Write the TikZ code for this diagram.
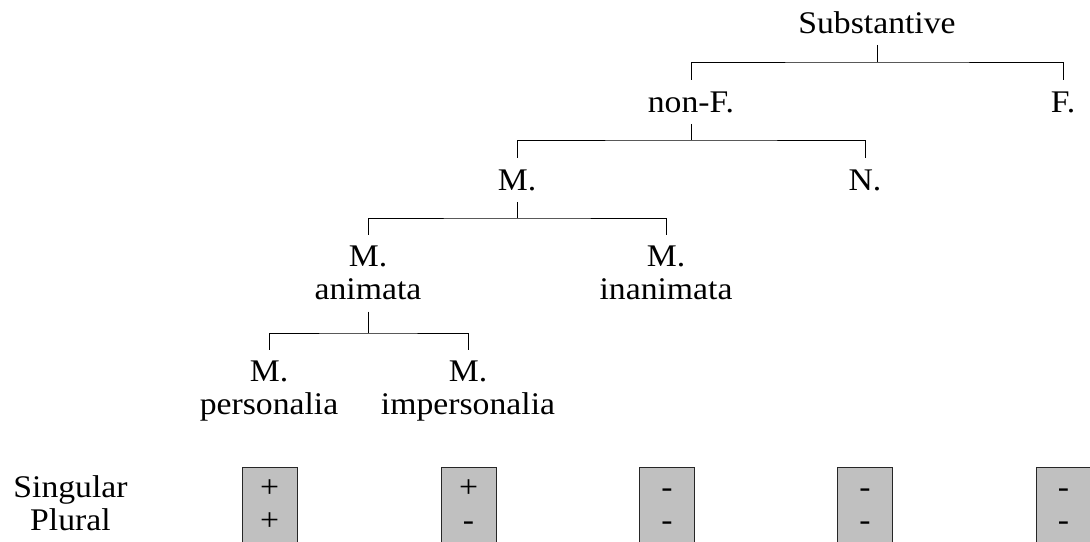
\documentclass[tikz,border=0pt]{standalone}
\usepackage{fontspec}
\setmainfont[FakeStretch=1.07]{Liberation Serif}
\usepackage{tikz}
\usetikzlibrary{shapes,arrows}
\definecolor{cellgray}{RGB}{192,192,192}
\tikzstyle{cat} = [inner sep=0pt, outer xsep=0pt, outer ysep=5.75pt, align=center]
\tikzstyle{rowlabel} = [inner sep=0pt, outer sep=0pt, align=center]
\tikzstyle{cell} = [draw=black!85, line width=0.5pt, fill=cellgray, minimum width=27.5pt, minimum height=37.75pt, inner sep=0pt]
\tikzstyle{val} = [inner sep=0pt, anchor=base]
\tikzstyle{branch} = [line width=0.5pt]

\begin{document}
\begin{tikzpicture}[x=0.5pt, y=-0.5pt, every node/.style={font=\fontsize{15.75pt}{16.5pt}\selectfont}]
    \useasboundingbox (0,0) rectangle (1090,541);
    % We start by placing the categories
    \node [cat, anchor=base] (subst) at (877,33) {Substantive};
    \node [cat, anchor=base] (nonf) at (691,112) {non-F.};
    \node [cat, anchor=base] (fem) at (1063,112) {F.};
    \node [cat, anchor=base] (masc) at (517,190) {M.};
    \node [cat, anchor=base] (neut) at (865,190) {N.};
    \node [cat, anchor=north] (anim) at (368,234.6) {M.\\animata};
    \node [cat, anchor=north] (inanim) at (666,234.6) {M.\\inanimata};
    \node [cat, anchor=north] (pers) at (269,349.6) {M.\\personalia};
    \node [cat, anchor=north] (impers) at (468,349.6) {M.\\impersonalia};
    % Junctions where the branches split
    \coordinate (j1) at (877,62);
    \coordinate (j2) at (691,140);
    \coordinate (j3) at (517,218);
    \coordinate (j4) at (368,333);
    % Then the branches, parent to children
    \draw [branch] (subst.south) -- (j1);
    \draw [branch] (nonf.north) |- (j1) -| (fem.north);
    \draw [branch] (nonf.south) -- (j2);
    \draw [branch] (masc.north) |- (j2) -| (neut.north);
    \draw [branch] (masc.south) -- (j3);
    \draw [branch] (anim.north) |- (j3) -| (inanim.north);
    \draw [branch] (anim.south) -- (j4);
    \draw [branch] (pers.north) |- (j4) -| (impers.north);
    % Number table under the leaves
    \node [rowlabel, anchor=north] (rows) at (70.5,475.5) {Singular\\Plural};
    \foreach \x/\s/\p [count=\i] in {269.5/+/+, 468.5/+/-, 667/-/-, 865/-/-, 1063.5/-/-} {
        \node [cell] (cell\i) at (\x,505.25) {};
        \node [val] (sg\i) at (\x,497) {\s};
        \node [val] (pl\i) at (\x,530) {\p};
    }
\end{tikzpicture}
\end{document}
